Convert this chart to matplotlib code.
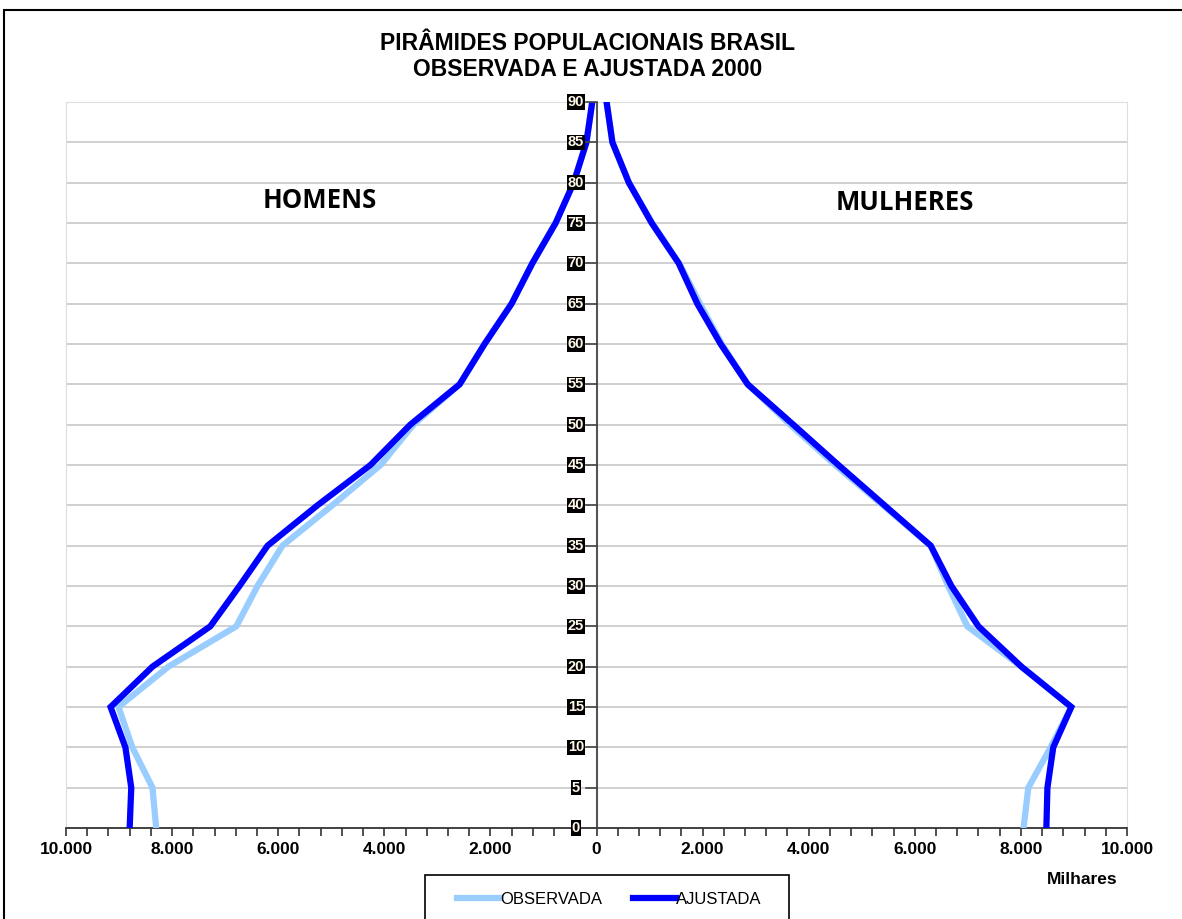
import matplotlib
matplotlib.use("Agg")
import matplotlib.pyplot as plt
from matplotlib.ticker import FuncFormatter, MultipleLocator
from matplotlib.lines import Line2D
from matplotlib.patches import Rectangle

ages = [0, 5, 10, 15, 20, 25, 30, 35, 40, 45, 50, 55, 60, 65, 70, 75, 80, 85, 90]
homens_obs = [8300, 8370, 8750, 9010, 8070, 6790, 6390, 5920, 4980, 4070, 3450, 2580, 2110, 1600, 1210, 770, 430, 190, 80]
homens_aju = [8800, 8770, 8880, 9160, 8370, 7280, 6730, 6200, 5260, 4260, 3510, 2580, 2110, 1600, 1210, 770, 430, 190, 80]
mulheres_obs = [8050, 8140, 8560, 8950, 8010, 6990, 6630, 6300, 5400, 4500, 3650, 2850, 2360, 1950, 1560, 1050, 610, 300, 190]
mulheres_aju = [8480, 8500, 8610, 8950, 8010, 7200, 6690, 6300, 5430, 4560, 3710, 2850, 2340, 1900, 1550, 1040, 610, 300, 190]
x_ticks = [-10000, -8000, -6000, -4000, -2000, 0, 2000, 4000, 6000, 8000, 10000]

light = "#99CCFF"
dark = "#0000FF"

W, H = 1182, 919
fig = plt.figure(figsize=(W / 100, H / 100), dpi=100)
fig.patches.append(Rectangle((4/W, -0.1), 1.2, (1 - 10/H) + 0.1, transform=fig.transFigure,
                             fill=False, edgecolor="black", linewidth=1.5))

ax = fig.add_axes([66/W, 1 - 828/H, 1061/W, 726/H])
ax.set_xlim(-10000, 10000)
ax.set_ylim(0, 90)

for a in ages:
    if a > 0:
        ax.axhline(a, color="#C8C8C8", linewidth=1.2, zorder=1)

ax.plot([-v for v in homens_obs], ages, color=light, linewidth=4.5, solid_joinstyle="miter", zorder=3)
ax.plot([v for v in mulheres_obs], ages, color=light, linewidth=4.5, solid_joinstyle="miter", zorder=3)
ax.plot([-v for v in homens_aju], ages, color=dark, linewidth=4.5, solid_joinstyle="miter", zorder=4)
ax.plot([v for v in mulheres_aju], ages, color=dark, linewidth=4.5, solid_joinstyle="miter", zorder=4)

for s in ["top", "right", "left"]:
    ax.spines[s].set_color("#DDDDDD")
ax.spines["bottom"].set_color("#333333")
ax.spines["bottom"].set_linewidth(1.3)

ax.axvline(0, color="#555555", linewidth=1.5, zorder=5)

ax.set_xticks(x_ticks)
ax.xaxis.set_minor_locator(MultipleLocator(400))
ax.tick_params(axis="x", which="both", direction="out", length=6, width=1.2, color="#333333")
ax.tick_params(axis="x", which="major", pad=4)
ax.xaxis.set_major_formatter(FuncFormatter(lambda v, p: f"{abs(int(v)):,}".replace(",", ".")))
for lab in ax.get_xticklabels():
    lab.set_fontfamily("Liberation Sans")
    lab.set_fontweight("bold")
    lab.set_fontsize(12.5)

ax.set_yticks([])
for a in ages:
    ax.plot([-190, 0], [a, a], color="#444444", linewidth=1.2, zorder=5, clip_on=False)
    ax.text(-390, a, str(a), ha="center", va="center", fontsize=10.5, fontweight="bold",
            family="Liberation Sans", color="#FFF8E8", zorder=6,
            bbox=dict(boxstyle="square,pad=0.05", facecolor="black", edgecolor="none"))

fig.text(588/W, 1 - 43/H, "PIRÂMIDES POPULACIONAIS BRASIL", ha="center", va="center",
         fontsize=16.5, fontweight="bold", family="Liberation Sans")
fig.text(588/W, 1 - 69/H, "OBSERVADA E AJUSTADA 2000", ha="center", va="center",
         fontsize=16.5, fontweight="bold", family="Liberation Sans")

fig.text(320/W, 1 - 201/H, "HOMENS", ha="center", va="center", fontsize=18.5, fontweight="bold", family="Open Sans")
fig.text(905/W, 1 - 203/H, "MULHERES", ha="center", va="center", fontsize=18.5, fontweight="bold", family="Open Sans")
fig.text(1082/W, 1 - 880/H, "Milhares", ha="center", va="center", fontsize=12.5, fontweight="bold",
         family="Liberation Sans")

fig.patches.append(Rectangle((425/W, -0.05), (789 - 425)/W, (919 - 875)/H + 0.05, transform=fig.transFigure,
                             fill=False, edgecolor="black", linewidth=1.2))
handles = [Line2D([], [], color=light, linewidth=4.5), Line2D([], [], color=dark, linewidth=4.5)]
leg = fig.legend(handles, ["OBSERVADA", "AJUSTADA"], loc="center left", ncol=2,
                 bbox_to_anchor=(457/W, 1 - 899/H), frameon=False,
                 handlelength=2.58, handletextpad=0.0, columnspacing=1.86,
                 borderpad=0, borderaxespad=0, prop={"family": "Liberation Sans", "size": 12})

fig.savefig("out.png", dpi=100, facecolor="white")
